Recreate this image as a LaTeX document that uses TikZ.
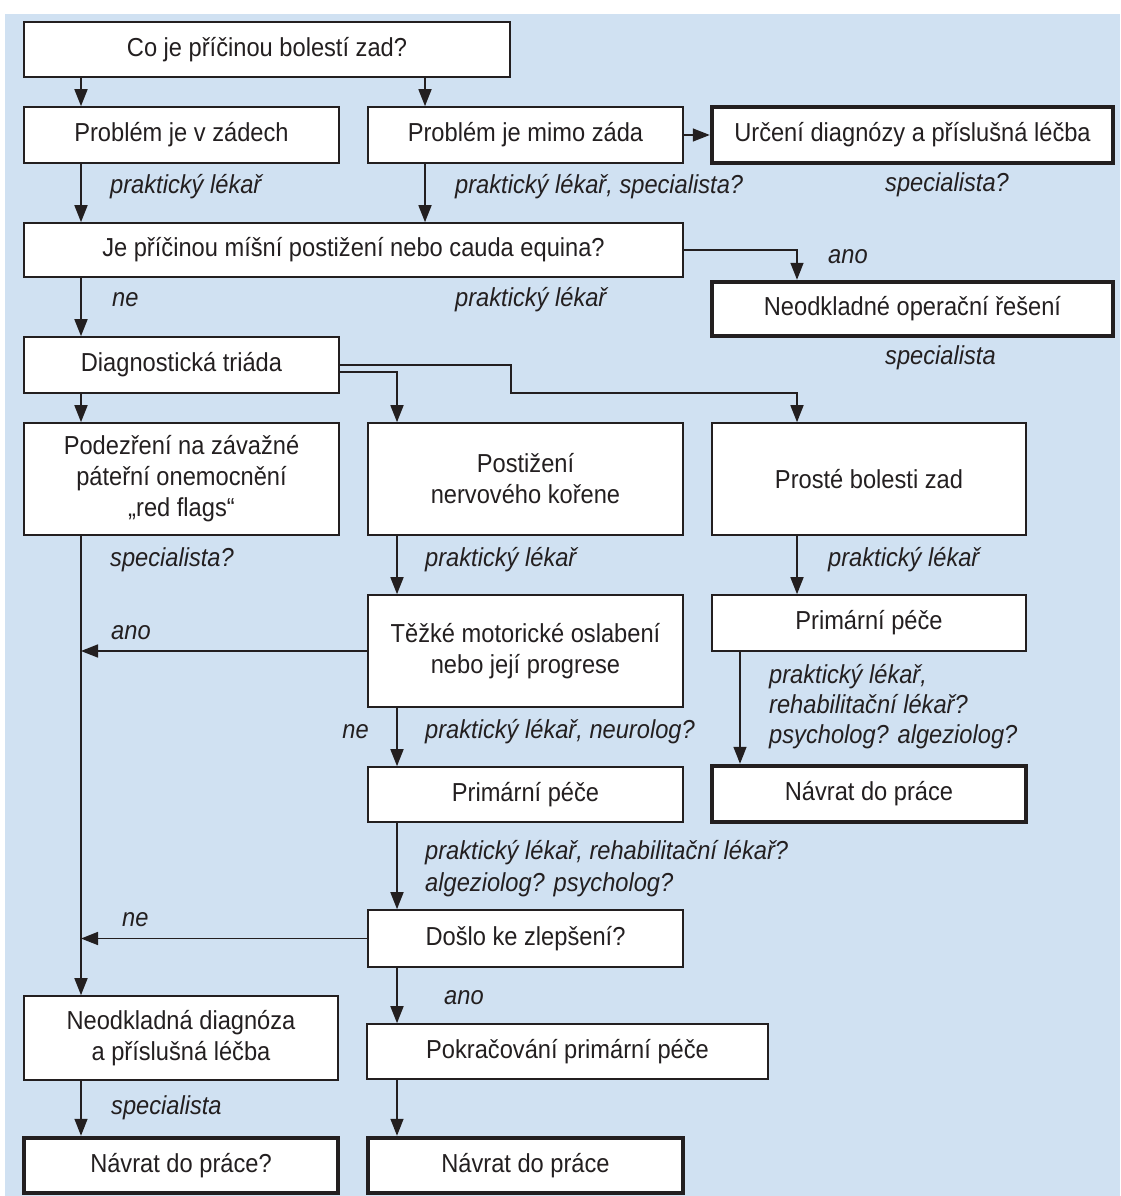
\documentclass[tikz,border=0pt]{standalone}
\usepackage{fontspec}
\setmainfont[FakeStretch=0.91]{Liberation Sans}
\usetikzlibrary{arrows.meta}
\definecolor{bgblue}{RGB}{208,225,242}
\definecolor{ink}{RGB}{35,31,32}

\begin{document}
\begin{tikzpicture}[x=1pt, y=-1pt,
  every node/.style={font=\fontsize{26}{31}\selectfont, text=ink},
  box/.style={draw=ink, fill=white, line width=1.6pt, align=center, inner sep=0pt},
  endbox/.style={box, line width=4.5pt},
  note/.style={font=\fontsize{26}{31}\selectfont\itshape, anchor=west, inner sep=0pt, align=left},
  arr/.style={draw=ink, line width=1.6pt, -{Triangle[length=17pt,width=13pt]}}]
  \useasboundingbox (0,0) rectangle (1120,1196);
  \fill[bgblue] (5,14) rectangle (1120,1196);

  % columns of the connectors
  \coordinate (cl) at (81,0);
  \coordinate (cq) at (425,0);
  \coordinate (cm) at (397,0);
  \coordinate (cr) at (797,0);
  \coordinate (cp) at (740,0);
  \coordinate (tk) at (511,393);

  \node[box, minimum width=486pt, minimum height=55pt] (q1) at (267,49.5) {Co je příčinou bolestí zad?};
  \node[box, minimum width=315pt, minimum height=56pt] (zad) at (181.5,135) {Problém je v zádech};
  \node[box, minimum width=315pt, minimum height=56pt] (mimo) at (525.5,135) {Problém je mimo záda};
  \node[endbox, minimum width=401pt, minimum height=56pt] (urc) at (912.5,135) {Určení diagnózy a příslušná léčba};
  \node[box, minimum width=659pt, minimum height=54pt] (mis) at (353.5,250) {Je příčinou míšní postižení nebo cauda equina?};
  \node[endbox, minimum width=401pt, minimum height=54pt] (oper) at (912.5,309) {Neodkladné operační řešení};
  \node[box, minimum width=315pt, minimum height=56pt] (tri) at (181.5,365) {Diagnostická triáda};
  \node[box, minimum width=315pt, minimum height=112pt] (pod) at (181.5,479) {Podezření na závažné\\páteřní onemocnění\\„red flags“};
  \node[box, minimum width=315pt, minimum height=112pt] (koren) at (525.5,479) {Postižení\\nervového kořene};
  \node[box, minimum width=314pt, minimum height=112pt] (proste) at (869,479) {Prosté bolesti zad};
  \node[box, minimum width=315pt, minimum height=112pt] (motor) at (525.5,651) {Těžké motorické oslabení\\nebo její progrese};
  \node[box, minimum width=314pt, minimum height=56pt] (pecer) at (869,623) {Primární péče};
  \node[endbox, minimum width=314pt, minimum height=56pt] (navr) at (869,794) {Návrat do práce};
  \node[box, minimum width=315pt, minimum height=55pt] (pecem) at (525.5,794.5) {Primární péče};
  \node[box, minimum width=315pt, minimum height=57pt] (zlep) at (525.5,938.5) {Došlo ke zlepšení?};
  \node[box, minimum width=314pt, minimum height=84pt] (diag) at (181,1038) {Neodkladná diagnóza\\a příslušná léčba};
  \node[box, minimum width=401pt, minimum height=55pt] (pokr) at (567.5,1051.5) {Pokračování primární péče};
  \node[endbox, minimum width=314pt, minimum height=55pt] (navl) at (181,1165.5) {Návrat do práce?};
  \node[endbox, minimum width=315pt, minimum height=55pt] (navm) at (525.5,1165.5) {Návrat do práce};

  % connectors
  \draw[arr] (q1.south -| cl) -- (zad.north -| cl);
  \draw[arr] (q1.south -| cq) -- (mimo.north -| cq);
  \draw[arr] (zad.south -| cl) -- (mis.north -| cl);
  \draw[arr] (mimo.south -| cq) -- (mis.north -| cq);
  \draw[arr] (mimo.east) -- (urc.west);
  \draw[arr] (mis.east) -| (oper.north -| cr);
  \draw[arr] (mis.south -| cl) -- (tri.north -| cl);
  \draw[arr] (tri.south -| cl) -- (pod.north -| cl);
  \draw[arr] ([yshift=-7pt]tri.east) -| (koren.north -| cm);
  \draw[arr] (tri.east) -| (tk) -| (proste.north -| cr);
  \draw[arr] (pod.south -| cl) -- (diag.north -| cl);
  \draw[arr] (koren.south -| cm) -- (motor.north -| cm);
  \draw[arr] (motor.west) -- (motor.west -| cl);
  \draw[arr] (motor.south -| cm) -- (pecem.north -| cm);
  \draw[arr] (pecem.south -| cm) -- (zlep.north -| cm);
  \draw[arr] (zlep.west) -- (zlep.west -| cl);
  \draw[arr] (zlep.south -| cm) -- (pokr.north -| cm);
  \draw[arr] (pokr.south -| cm) -- (navm.north -| cm);
  \draw[arr] (diag.south -| cl) -- (navl.north -| cl);
  \draw[arr] (proste.south -| cr) -- (pecer.north -| cr);
  \draw[arr] (pecer.south -| cp) -- (navr.north -| cp);

  % who takes care
  \node[note] (n1) at (110,187) {praktický lékař};
  \node[note] (n2) at (455,187) {praktický lékař, specialista?};
  \node[note] (n3) at (885,185) {specialista?};
  \node[note] (n4) at (828,257) {ano};
  \node[note] (n5) at (112,300) {ne};
  \node[note] (n6) at (455,300) {praktický lékař};
  \node[note] (n7) at (885,358) {specialista};
  \node[note] (n8) at (110,560) {specialista?};
  \node[note] (n9) at (425,560) {praktický lékař};
  \node[note] (n10) at (828,560) {praktický lékař};
  \node[note] (n11) at (111,633) {ano};
  \node[note, anchor=east] (n12) at (369,732) {ne};
  \node[note] (n13) at (425,732) {praktický lékař, neurolog?};
  \node[note, font=\fontsize{26}{30}\selectfont\itshape] (n14) at (769,707) {praktický lékař,\\rehabilitační lékař?\\psycholog? algeziolog?};
  \node[note, font=\fontsize{26}{32}\selectfont\itshape] (n15) at (425,869) {praktický lékař, rehabilitační lékař?\\algeziolog? psycholog?};
  \node[note] (n16) at (122,920) {ne};
  \node[note] (n17) at (444,998) {ano};
  \node[note] (n18) at (111,1108) {specialista};
\end{tikzpicture}
\end{document}
